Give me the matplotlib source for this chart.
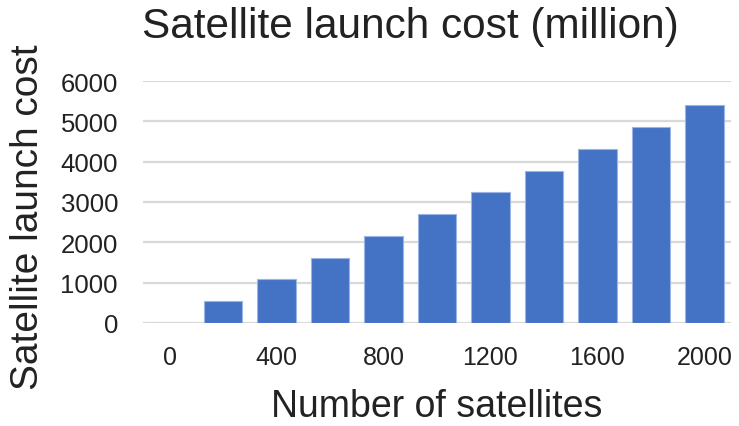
import matplotlib
matplotlib.use("Agg")
import matplotlib.pyplot as plt

# Launch cost by constellation size
satellites = [0, 200, 400, 600, 800, 1000, 1200, 1400, 1600, 1800, 2000]
cost = [0, 540, 1080, 1620, 2160, 2700, 3240, 3780, 4320, 4860, 5400]
x_tick_labels = ["0", "", "400", "", "800", "", "1200", "", "1600", "", "2000"]
y_ticks = [0, 1000, 2000, 3000, 4000, 5000, 6000]

plt.rcParams["font.family"] = ["Liberation Sans", "DejaVu Sans"]

W, H = 739, 427
fig = plt.figure(figsize=(W / 100, H / 100), dpi=100)
ax = fig.add_axes([143 / W, 1 - 324 / H, (731 - 143) / W, (324 - 82) / H])

pos = list(range(len(satellites)))
ax.bar(pos, cost, width=0.72, color="#4472C4", edgecolor="#9db5e3",
       linewidth=0.8, zorder=3)

ax.set_xlim(-0.5, len(satellites) - 0.5)
ax.set_ylim(0, 6000)
ax.set_yticks(y_ticks)
ax.set_yticklabels([str(v) for v in y_ticks], fontsize=18.5, color="#222222")
ax.set_xticks(pos)
ax.set_xticklabels(x_tick_labels, fontsize=18, color="#222222")
ax.tick_params(axis="both", length=0)
ax.tick_params(axis="x", pad=16)
ax.tick_params(axis="y", pad=18)

ax.grid(axis="y", color="#d9d9d9", linewidth=1.6, zorder=0)
for s in ax.spines.values():
    s.set_visible(False)

fig.text(142 / W, 1 - 38 / H, "Satellite launch cost (million)",
         fontsize=30.5, color="#222222", ha="left", va="baseline")
fig.text(437 / W, 1 - 417 / H, "Number of satellites",
         fontsize=27, color="#222222", ha="center", va="baseline")
fig.text(28.5 / W, 1 - 217 / H, "Satellite launch cost", rotation=90,
         fontsize=28, color="#222222", ha="center", va="center")

fig.savefig("out.png", dpi=100)
